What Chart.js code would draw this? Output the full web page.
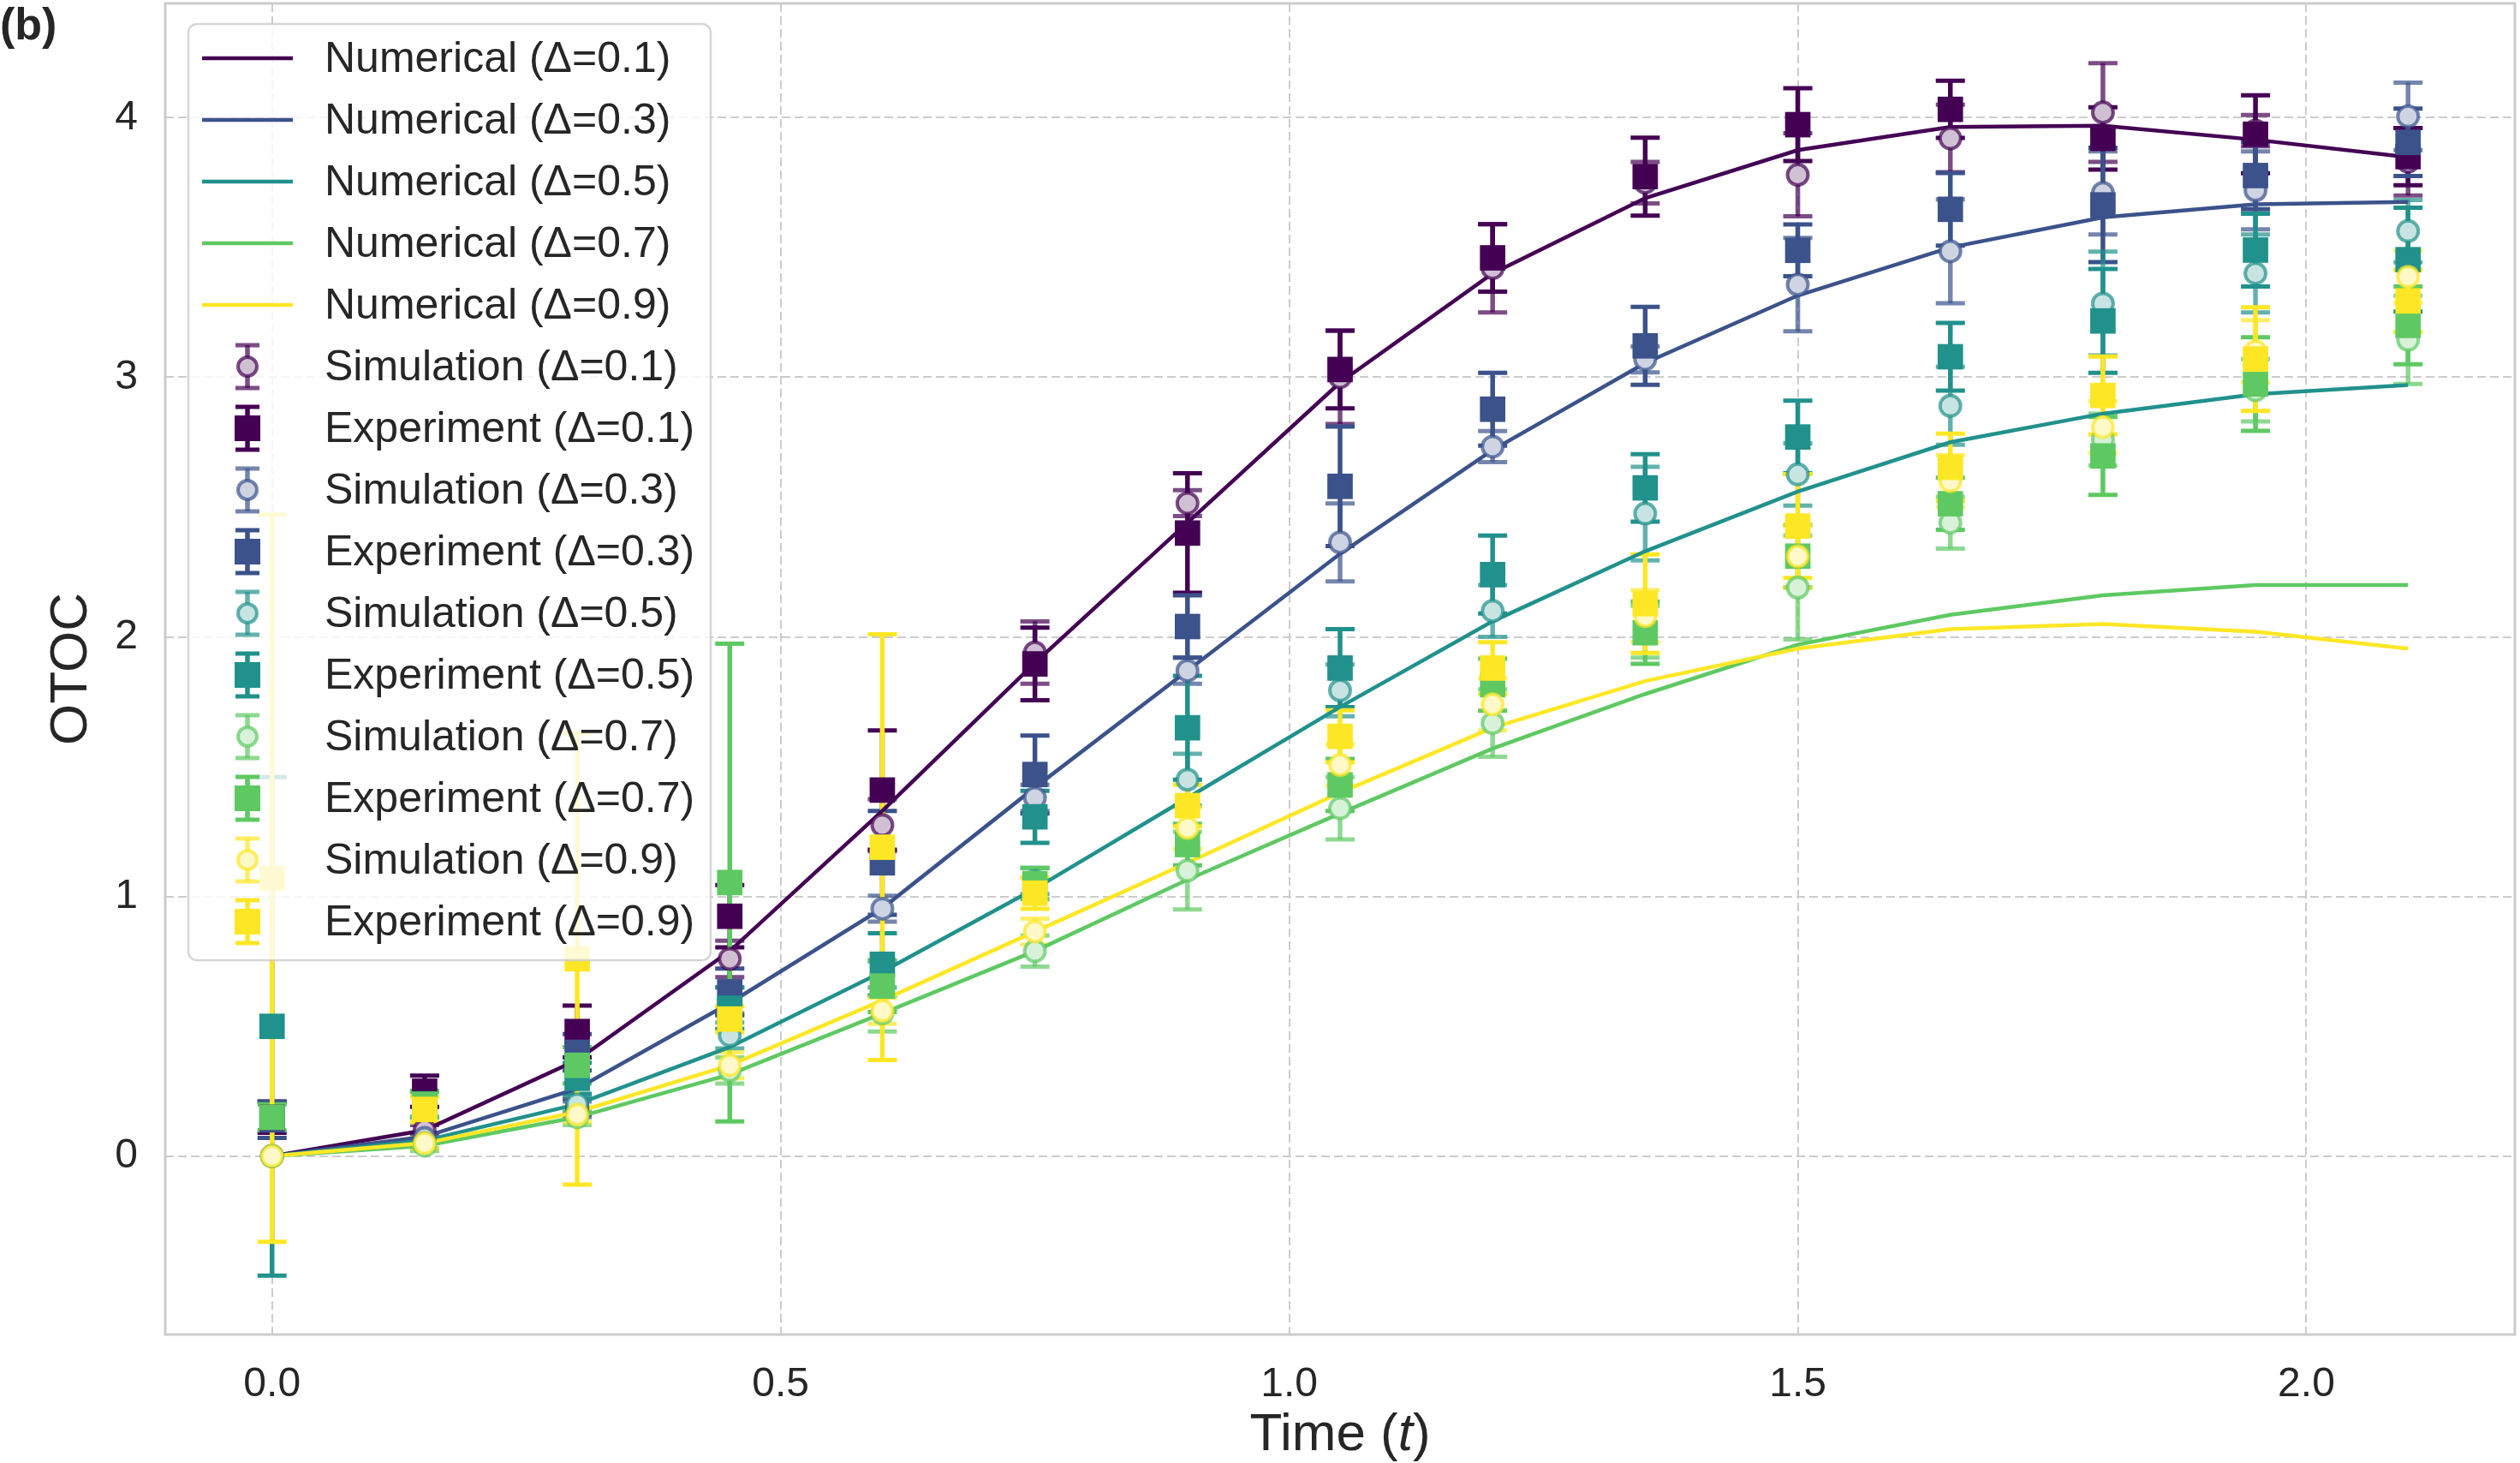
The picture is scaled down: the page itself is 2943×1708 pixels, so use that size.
<!DOCTYPE html>
<html>
<head>
<meta charset="utf-8">
<script src="https://cdn.jsdelivr.net/npm/chart.js@4.4.0/dist/chart.umd.min.js"></script>
<style>
html, body { margin: 0; padding: 0; background: #ffffff; }
</style>
</head>
<body>
<canvas id="grafico" width="2943" height="1708"></canvas>
<script>
const times = [0, 0.15, 0.3, 0.45, 0.6, 0.75, 0.9, 1.05, 1.2, 1.35, 1.5, 1.65, 1.8, 1.95, 2.1];
const deltaLabels = ['0.1', '0.3', '0.5', '0.7', '0.9'];
const colors = ['#440154', '#3b528b', '#21918c', '#5ec962', '#fde725'];

const numerical01 = [0, 0.10, 0.37, 0.79, 1.33, 1.90, 2.44, 2.98, 3.40, 3.69, 3.875, 3.964, 3.969, 3.915, 3.848];
const numerical03 = [0, 0.075, 0.26, 0.59, 0.955, 1.42, 1.87, 2.32, 2.72, 3.055, 3.315, 3.50, 3.616, 3.666, 3.675];
const numerical05 = [0, 0.06, 0.20, 0.42, 0.71, 1.03, 1.38, 1.73, 2.06, 2.33, 2.56, 2.75, 2.86, 2.935, 2.97];
const numerical07 = [0, 0.04, 0.15, 0.315, 0.55, 0.79, 1.065, 1.32, 1.57, 1.78, 1.97, 2.085, 2.16, 2.2, 2.2];
const numerical09 = [0, 0.05, 0.17, 0.35, 0.60, 0.865, 1.13, 1.40, 1.65, 1.83, 1.955, 2.03, 2.05, 2.02, 1.955];

const sim01 = [0, 0.10, 0.19, 0.76, 1.275, 1.94, 2.515, 3.00, 3.42, 3.75, 3.78, 3.92, 4.02, 3.95, 3.83];
const sim01Err = [0, 0.02, 0.03, 0.07, 0.10, 0.12, 0.05, 0.18, 0.17, 0.08, 0.16, 0.13, 0.19, 0.06, 0.13];
const sim03 = [0, 0.07, 0.18, 0.60, 0.953, 1.38, 1.87, 2.364, 2.733, 3.069, 3.357, 3.485, 3.71, 3.72, 4.005];
const sim03Err = [0, 0.02, 0.03, 0.05, 0.05, 0.05, 0.05, 0.15, 0.06, 0.05, 0.18, 0.20, 0.16, 0.15, 0.13];
const sim05 = [0, 0.05, 0.20, 0.465, 0.70, 1.06, 1.45, 1.794, 2.10, 2.475, 2.626, 2.89, 3.284, 3.40, 3.563];
const sim05Err = [0, 0.02, 0.03, 0.05, 0.05, 0.05, 0.10, 0.10, 0.10, 0.18, 0.12, 0.15, 0.20, 0.15, 0.12];
const sim07 = [0, 0.04, 0.15, 0.33, 0.55, 0.79, 1.10, 1.34, 1.668, 2.02, 2.19, 2.44, 2.76, 2.95, 3.144];
const sim07Err = [0, 0.02, 0.03, 0.05, 0.07, 0.06, 0.15, 0.12, 0.13, 0.10, 0.20, 0.10, 0.10, 0.12, 0.17];
const sim09 = [0, 0.05, 0.16, 0.35, 0.56, 0.865, 1.264, 1.507, 1.74, 2.08, 2.31, 2.60, 2.808, 3.10, 3.387];
const sim09Err = [0, 0.02, 0.03, 0.05, 0.05, 0.05, 0.08, 0.08, 0.10, 0.10, 0.12, 0.10, 0.10, 0.12, 0.10];

const exp01 = [0.15, 0.25, 0.48, 0.924, 1.41, 1.896, 2.40, 3.03, 3.46, 3.773, 3.973, 4.032, 3.92, 3.936, 3.85];
const exp01Err = [0.06, 0.06, 0.10, 0.12, 0.23, 0.14, 0.23, 0.15, 0.13, 0.15, 0.14, 0.11, 0.12, 0.15, 0.11];
const exp03 = [0.14, 0.20, 0.40, 0.633, 1.13, 1.47, 2.04, 2.58, 2.877, 3.121, 3.489, 3.647, 3.664, 3.777, 3.905];
const exp03Err = [0.07, 0.05, 0.07, 0.09, 0.20, 0.15, 0.12, 0.23, 0.14, 0.15, 0.10, 0.14, 0.22, 0.13, 0.13];
const exp05 = [0.50, 0.20, 0.30, 0.57, 0.739, 1.307, 1.65, 1.88, 2.24, 2.574, 2.77, 3.079, 3.217, 3.49, 3.453];
const exp05Err = [0.96, 0.05, 0.06, 0.08, 0.12, 0.10, 0.20, 0.15, 0.15, 0.13, 0.14, 0.13, 0.20, 0.14, 0.20];
const exp07 = [0.15, 0.20, 0.35, 1.054, 0.655, 1.05, 1.20, 1.43, 1.816, 2.016, 2.311, 2.513, 2.697, 2.974, 3.20];
const exp07Err = [0.05, 0.05, 0.07, 0.92, 0.10, 0.06, 0.08, 0.10, 0.10, 0.12, 0.12, 0.10, 0.15, 0.18, 0.15];
const exp09 = [1.07, 0.18, 0.76, 0.528, 1.19, 1.013, 1.35, 1.617, 1.88, 2.128, 2.427, 2.653, 2.93, 3.07, 3.294];
const exp09Err = [1.40, 0.05, 0.87, 0.05, 0.82, 0.06, 0.08, 0.10, 0.10, 0.19, 0.20, 0.13, 0.15, 0.20, 0.12];

const xTicks = [0, 0.5, 1.0, 1.5, 2.0];
const yTicks = [0, 1, 2, 3, 4];

const FONT = "'Liberation Sans', Arial, Helvetica, sans-serif";
const TEXT = '#262626';

const numericalSeries = [numerical01, numerical03, numerical05, numerical07, numerical09];
const simSeries = [sim01, sim03, sim05, sim07, sim09];
const simErrSeries = [sim01Err, sim03Err, sim05Err, sim07Err, sim09Err];
const expSeries = [exp01, exp03, exp05, exp07, exp09];
const expErrSeries = [exp01Err, exp03Err, exp05Err, exp07Err, exp09Err];

function hexToRgb(h) {
    const n = parseInt(h.slice(1), 16);
    return [(n >> 16) & 255, (n >> 8) & 255, n & 255];
}
function rgba(h, a) {
    const c = hexToRgb(h);
    return 'rgba(' + c[0] + ',' + c[1] + ',' + c[2] + ',' + a + ')';
}
function tint(h, f) {
    const c = hexToRgb(h).map(v => Math.round(v * f + 255 * (1 - f)));
    return 'rgb(' + c.join(',') + ')';
}
function toPoints(values) {
    return times.map((t, k) => ({ x: t, y: values[k] }));
}

const datasets = [];
colors.forEach((c, i) => {
    datasets.push({
        kind: 'num',
        label: 'Numerical (Δ=' + deltaLabels[i] + ')',
        data: toPoints(numericalSeries[i]),
        borderColor: c,
        borderWidth: 4.5,
        pointRadius: 0,
        tension: 0,
        fill: false
    });
});
colors.forEach((c, i) => {
    datasets.push({
        kind: 'sim',
        label: 'Simulation (Δ=' + deltaLabels[i] + ')',
        data: toPoints(simSeries[i]),
        errY: simErrSeries[i],
        errColor: rgba(c, 0.7),
        faceColor: tint(c, 0.25),
        showLine: false,
        pointStyle: 'circle',
        pointRadius: 12,
        pointBorderWidth: 4,
        pointBackgroundColor: tint(c, 0.25),
        pointBorderColor: rgba(c, 0.7)
    });
    datasets.push({
        kind: 'exp',
        label: 'Experiment (Δ=' + deltaLabels[i] + ')',
        data: toPoints(expSeries[i]),
        errY: expErrSeries[i],
        errColor: c,
        showLine: false,
        pointStyle: 'rect',
        pointRadius: 21,
        pointBorderWidth: 0,
        pointBackgroundColor: c,
        pointBorderColor: c
    });
});
datasets.forEach((d, i) => { d.order = -i; });

function drawBar(ctx, x, top, bot, cap, color) {
    ctx.strokeStyle = color;
    ctx.lineWidth = 5.5;
    ctx.beginPath();
    ctx.moveTo(x, top);
    ctx.lineTo(x, bot);
    ctx.stroke();
    ctx.lineWidth = 5;
    ctx.beginPath();
    ctx.moveTo(x - cap, top);
    ctx.lineTo(x + cap, top);
    ctx.moveTo(x - cap, bot);
    ctx.lineTo(x + cap, bot);
    ctx.stroke();
}

const errorBars = {
    id: 'errorBars',
    beforeDatasetsDraw(chart) {
        const ctx = chart.ctx;
        const area = chart.chartArea;
        const xs = chart.scales.x;
        const ys = chart.scales.y;
        ctx.save();
        ctx.beginPath();
        ctx.rect(area.left, area.top, area.right - area.left, area.bottom - area.top);
        ctx.clip();
        chart.data.datasets.forEach(ds => {
            if (!ds.errY) return;
            ds.data.forEach((p, k) => {
                const e = ds.errY[k];
                if (!e) return;
                const px = xs.getPixelForValue(p.x);
                drawBar(ctx, px, ys.getPixelForValue(p.y + e), ys.getPixelForValue(p.y - e), 17, ds.errColor);
            });
        });
        ctx.restore();
    }
};

const decorations = {
    id: 'decorations',
    afterDatasetsDraw(chart) {
        const ctx = chart.ctx;
        const a = chart.chartArea;
        ctx.save();
        ctx.strokeStyle = '#cccccc';
        ctx.lineWidth = 3;
        ctx.strokeRect(a.left, a.top, a.right - a.left, a.bottom - a.top);
        ctx.restore();
    },
    afterDraw(chart) {
        const ctx = chart.ctx;
        const a = chart.chartArea;
        ctx.save();

        // legend box
        const lx = 220, ly = 28, lw = 610, lh = 1093, r = 10;
        ctx.beginPath();
        ctx.moveTo(lx + r, ly);
        ctx.arcTo(lx + lw, ly, lx + lw, ly + lh, r);
        ctx.arcTo(lx + lw, ly + lh, lx, ly + lh, r);
        ctx.arcTo(lx, ly + lh, lx, ly, r);
        ctx.arcTo(lx, ly, lx + lw, ly, r);
        ctx.closePath();
        ctx.fillStyle = 'rgba(255,255,255,0.8)';
        ctx.fill();
        ctx.strokeStyle = 'rgba(204,204,204,0.8)';
        ctx.lineWidth = 2.5;
        ctx.stroke();

        ctx.font = '50px ' + FONT;
        ctx.textBaseline = 'middle';
        ctx.textAlign = 'left';
        chart.data.datasets.forEach((ds, i) => {
            const cy = 68 + 72 * i;
            const hx = 289;
            if (ds.kind === 'num') {
                ctx.strokeStyle = ds.borderColor;
                ctx.lineWidth = 4.5;
                ctx.beginPath();
                ctx.moveTo(236, cy);
                ctx.lineTo(342, cy);
                ctx.stroke();
            } else {
                drawBar(ctx, hx, cy - 25, cy + 25, 14, ds.errColor);
                if (ds.kind === 'sim') {
                    ctx.beginPath();
                    ctx.arc(hx, cy, 11, 0, Math.PI * 2);
                    ctx.fillStyle = ds.faceColor;
                    ctx.fill();
                    ctx.lineWidth = 4;
                    ctx.strokeStyle = ds.pointBorderColor;
                    ctx.stroke();
                } else {
                    ctx.fillStyle = ds.pointBackgroundColor;
                    ctx.fillRect(hx - 15, cy - 15, 30, 30);
                }
            }
            ctx.fillStyle = TEXT;
            ctx.fillText(ds.label, 379, cy + 2);
        });

        // x axis title with italic t
        ctx.fillStyle = TEXT;
        ctx.textBaseline = 'middle';
        const regular = '62px ' + FONT;
        const italic = 'italic 62px ' + FONT;
        ctx.font = regular;
        const w1 = ctx.measureText('Time (').width;
        const w3 = ctx.measureText(')').width;
        ctx.font = italic;
        const w2 = ctx.measureText('t').width;
        let x = (a.left + a.right) / 2 - (w1 + w2 + w3) / 2;
        const ty = 1676;
        ctx.font = regular;
        ctx.fillText('Time (', x, ty);
        x += w1;
        ctx.font = italic;
        ctx.fillText('t', x, ty);
        x += w2;
        ctx.font = regular;
        ctx.fillText(')', x, ty);

        // y axis title
        ctx.save();
        ctx.translate(84, (a.top + a.bottom) / 2);
        ctx.rotate(-Math.PI / 2);
        ctx.textAlign = 'center';
        ctx.font = regular;
        ctx.fillText('OTOC', 0, 0);
        ctx.restore();

        // panel label
        ctx.font = 'bold 52px ' + FONT;
        ctx.textAlign = 'left';
        ctx.textBaseline = 'top';
        ctx.fillText('(b)', 0, 6);
        ctx.restore();
    }
};

function noPadding(s) {
    s.paddingTop = 0;
    s.paddingBottom = 0;
    s.paddingLeft = 0;
    s.paddingRight = 0;
}

function criarGrafico() {
    const ctx = document.getElementById('grafico');
    return new Chart(ctx, {
        type: 'line',
        data: { datasets: datasets },
        options: {
            responsive: false,
            animation: false,
            devicePixelRatio: 1,
            events: [],
            layout: { autoPadding: false, padding: { top: 4, right: 6, left: 0, bottom: 0 } },
            scales: {
                x: {
                    type: 'linear',
                    min: -0.105,
                    max: 2.205,
                    afterBuildTicks: s => { s.ticks = xTicks.map(v => ({ value: v })); },
                    afterFit: s => { s.height = 150; noPadding(s); },
                    grid: { color: '#cccccc', lineWidth: 2, drawTicks: false },
                    border: { display: false, dash: [10, 5] },
                    ticks: {
                        color: TEXT,
                        padding: 30,
                        maxRotation: 0,
                        autoSkip: false,
                        font: { size: 48, family: FONT },
                        callback: v => Number(v).toFixed(1)
                    }
                },
                y: {
                    type: 'linear',
                    min: -0.687,
                    max: 4.44,
                    afterBuildTicks: s => { s.ticks = yTicks.map(v => ({ value: v })); },
                    afterFit: s => { s.width = 193; noPadding(s); },
                    grid: { color: '#cccccc', lineWidth: 2, drawTicks: false },
                    border: { display: false, dash: [10, 5] },
                    ticks: {
                        color: TEXT,
                        padding: 32,
                        autoSkip: false,
                        font: { size: 48, family: FONT },
                        callback: v => String(v)
                    }
                }
            },
            plugins: {
                legend: { display: false },
                tooltip: { enabled: false }
            }
        },
        plugins: [errorBars, decorations]
    });
}

criarGrafico();
</script>
</body>
</html>
